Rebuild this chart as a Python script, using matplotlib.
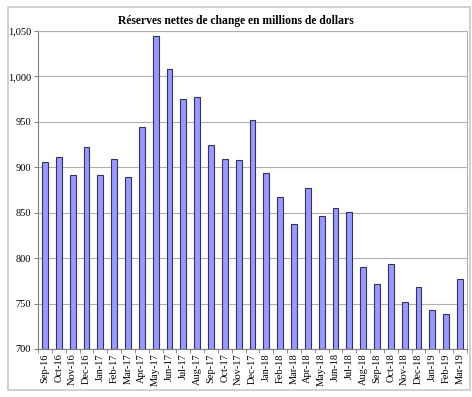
import matplotlib

matplotlib.use("Agg")
import matplotlib.pyplot as plt  # noqa: E402
import numpy as np  # noqa: E402
from matplotlib.patches import Rectangle  # noqa: E402
from matplotlib.ticker import FuncFormatter  # noqa: E402

MONTHS = [
    "Sep-16", "Oct-16", "Nov-16", "Dec-16", "Jan-17", "Feb-17", "Mar-17",
    "Apr-17", "May-17", "Jun-17", "Jul-17", "Aug-17", "Sep-17", "Oct-17",
    "Nov-17", "Dec-17", "Jan-18", "Feb-18", "Mar-18", "Apr-18", "May-18",
    "Jun-18", "Jul-18", "Aug-18", "Sep-18", "Oct-18", "Nov-18", "Dec-18",
    "Jan-19", "Feb-19", "Mar-19",
]
RESERVES = [
    906, 911, 892, 922, 892, 909, 889,
    944, 1045, 1008, 975, 977, 924, 909,
    908, 952, 894, 867, 838, 877, 846,
    855, 851, 790, 772, 794, 752, 768,
    743, 739, 777,
]
Y_TICKS = [700, 750, 800, 850, 900, 950, 1000, 1050]
TITLE = "Réserves nettes de change en millions de dollars"

plt.rcParams["font.family"] = ["Liberation Serif", "DejaVu Serif"]

fig = plt.figure(figsize=(4.72, 3.97), dpi=100)
# chart area frame
fig.patches.append(Rectangle((8 / 472, 7 / 397), 462 / 472, 383 / 397,
                             transform=fig.transFigure, fill=False,
                             edgecolor="#c8c8c8", lw=1.2))

ax = fig.add_axes((38 / 472, 48 / 397, 429 / 472, 318 / 397))
x = np.arange(len(MONTHS))
vals = np.array(RESERVES) - 700
# light shadow to the right of each bar
ax.bar(x + 0.07, vals, bottom=700, width=0.42,
       color="#cfcfcf", zorder=2, linewidth=0)
ax.bar(x, vals, bottom=700, width=0.42,
       color="#9999ff", edgecolor="#33335a", linewidth=0.8, zorder=3)

ax.set_ylim(700, 1050)
ax.set_xlim(-0.5, len(MONTHS) - 0.5)
ax.set_yticks(Y_TICKS)
ax.yaxis.set_major_formatter(FuncFormatter(lambda v, _: f"{v:,.0f}"))
ax.yaxis.grid(True, color="#b0b0b0", lw=0.8, zorder=0)
ax.set_axisbelow(True)

ax.set_xticks(x)
ax.set_xticklabels(MONTHS, rotation=90, fontsize=7.5)
ax.set_xticks(np.arange(len(MONTHS) + 1) - 0.5, minor=True)
ax.tick_params(axis="x", which="major", length=0, pad=3)
ax.tick_params(axis="x", which="minor", length=3, color="#808080")
ax.tick_params(axis="y", labelsize=7.5, length=3, color="#808080", pad=2)

for side in ("top", "right"):
    ax.spines[side].set_color("#b0b0b0")
for side in ("left", "bottom"):
    ax.spines[side].set_color("#808080")

fig.text(0.5, 376 / 397, TITLE, ha="center", va="center",
         fontsize=8.4, fontweight="bold")

fig.savefig("out.png", dpi=100)
